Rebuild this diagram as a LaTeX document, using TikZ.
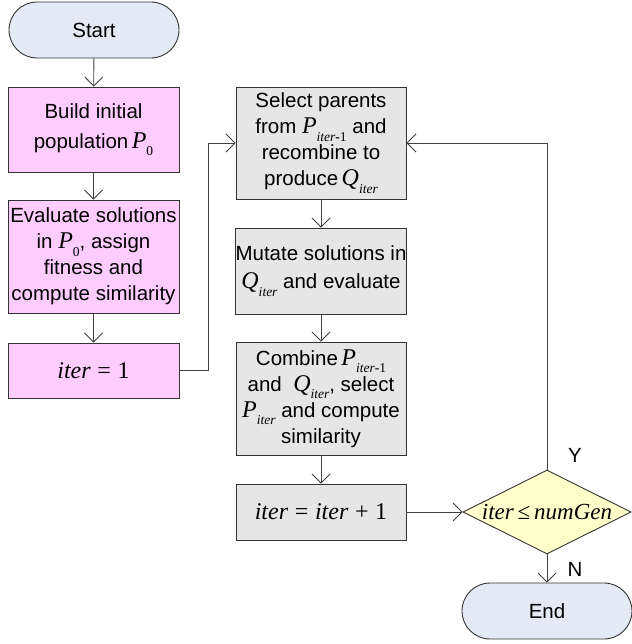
\documentclass[tikz,border=0pt]{standalone}
\usepackage{fontspec}
\setmainfont{Liberation Sans}
\newfontfamily\tms{Liberation Serif}
\usetikzlibrary{arrows.meta,shapes.geometric}

% italic serif variables, a larger set symbol and lowered subscripts
\newcommand{\vr}[1]{{\tms\itshape #1}}
\newcommand{\setv}[1]{{\fontsize{24}{25}\selectfont\tms\itshape #1}}
\newcommand{\sbs}[1]{\raisebox{-0.7ex}{\fontsize{13.5}{14}\selectfont #1}}

\definecolor{pinkfill}{HTML}{FFCCFF}
\definecolor{grayfill}{HTML}{E6E6E6}
\definecolor{termfill}{HTML}{E4EAF5}
\definecolor{decfill}{HTML}{FFFFCC}
\definecolor{edgecol}{HTML}{333333}
\definecolor{linkcol}{HTML}{404040}

\tikzset{
  base/.style={draw=edgecol, line width=0.9pt, align=center, inner sep=0pt,
    font=\fontsize{20.5}{26}\selectfont},
  term/.style={base, fill=termfill, rounded corners=28pt,
    minimum width=170pt, minimum height=56pt},
  initbox/.style={base, fill=pinkfill, minimum width=171pt},
  loopbox/.style={base, fill=grayfill, minimum width=170pt},
  decision/.style={base, fill=decfill, diamond, minimum width=168pt, minimum height=84pt},
  link/.style={draw=linkcol, line width=0.9pt, -{Straight Barb[length=9pt,width=18pt,line width=0.9pt]}},
  branch/.style={font=\fontsize{20.5}{25}\selectfont}
}

\begin{document}
\begin{tikzpicture}[x=1pt,y=-1pt]
\useasboundingbox (0,0) rectangle (631,644);

% left column: initialisation
\node[term] (start) at (94,30) {Start};
\node[initbox, minimum height=85pt] (build) at (93.5,129.5)
  {Build initial\\[4pt]population\,\setv{P}\sbs{\tms 0}};
\node[initbox, minimum height=113pt] (eval) at (93.5,256.5)
  {Evaluate solutions\\in \setv{P}\sbs{\tms 0}, assign\\fitness and\\compute similarity};
\node[initbox, minimum height=55pt] (init) at (93.5,370.5)
  {\fontsize{24}{25}\selectfont\vr{iter}\ {\tms =}\ {\tms 1}};

% middle column: generation loop
\node[loopbox, minimum height=112pt] (select) at (321,143)
  {Select parents\\from \setv{P}\sbs{\vr{iter}{\tms\bfseries -}\tms 1} and\\recombine to\\produce\,\setv{Q}\sbs{\vr{iter}}};
\node[loopbox, minimum height=86pt] (mutate) at (321,271)
  {Mutate solutions in\\[2pt]\setv{Q}\sbs{\vr{iter}} and evaluate};
\node[loopbox, minimum height=113pt] (combine) at (321,398.5)
  {Combine\,\setv{P}\sbs{\vr{iter}{\tms\bfseries -}\tms 1}\\and \ \setv{Q}\sbs{\vr{iter}}, select\\\setv{P}\sbs{\vr{iter}} and compute\\similarity};
\node[loopbox, minimum height=56pt] (incr) at (321,512)
  {\fontsize{24}{25}\selectfont\vr{iter}\ {\tms =}\ \vr{iter}\ {\tms +}\ {\tms 1}};

% right column: termination test
\node[decision, label={[font=\fontsize{23}{25}\selectfont]center:\vr{iter}\,{\tms ≤}\,\vr{numGen}}] (test) at (547,512) {};
\node[term] (stop) at (547,611) {End};

\coordinate (jl) at (208,370.5);
\coordinate (jlt) at (208,143);
\coordinate (jr) at (547,143);

% connectors
\draw[link] (start) -- (build);
\draw[link] (build) -- (eval);
\draw[link] (eval) -- (init);
\draw[link] (init.east) -- (jl) -- (jlt) -- (select.west);
\draw[link] (select) -- (mutate);
\draw[link] (mutate) -- (combine);
\draw[link] (combine) -- (incr);
\draw[link] (incr.east) -- (test.west);
\draw[link] (test.north) -- (jr) -- (select.east);
\draw[link] (test.south) -- (stop.north);

% branch labels
\node[branch] (ylab) at (575,455) {Y};
\node[branch] (nlab) at (575,569) {N};
\end{tikzpicture}
\end{document}
